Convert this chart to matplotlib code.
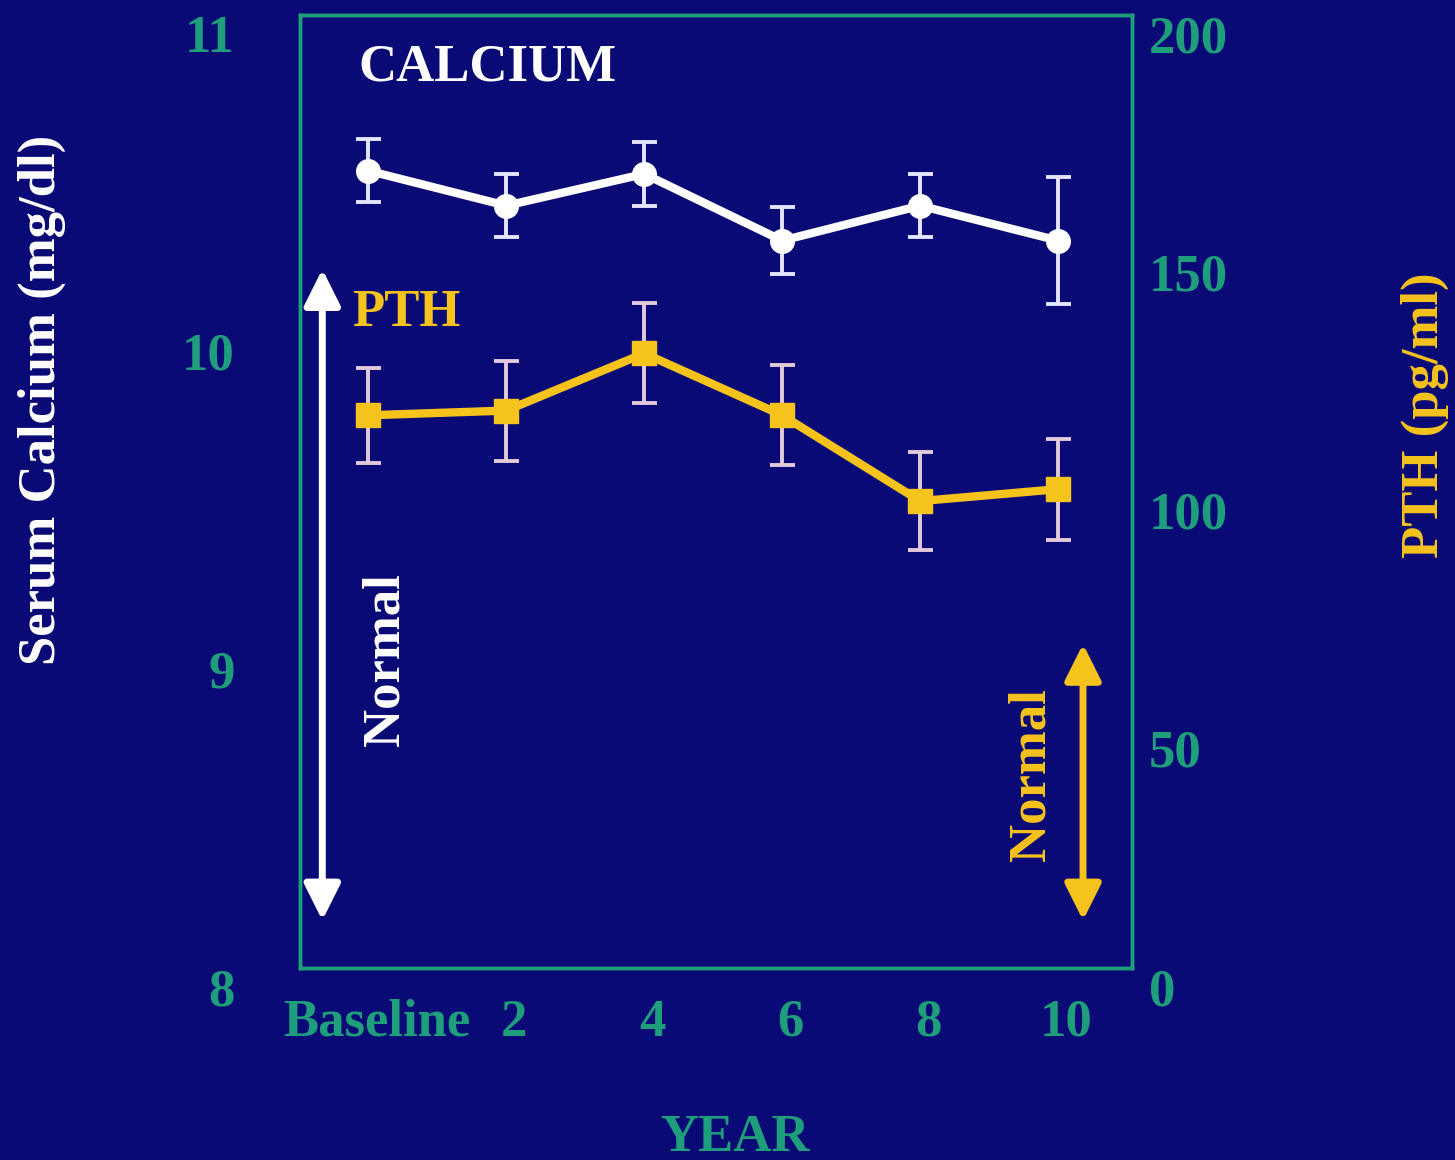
import numpy as np
from matplotlib import pyplot as plt
from matplotlib.transforms import ScaledTranslation

# serum calcium and PTH over ten years of follow-up
years = [0, 2, 4, 6, 8, 10]
year_labels = ["Baseline", "2", "4", "6", "8", "10"]
calcium = [10.51, 10.40, 10.50, 10.29, 10.40, 10.29]
calcium_err = [0.10, 0.10, 0.10, 0.105, 0.10, 0.20]
pth = [116, 117, 129, 116, 98, 100.5]
pth_err = [10, 10.5, 10.5, 10.5, 10.3, 10.6]

# normal ranges shown as double arrows
calcium_normal = [8.15, 10.2]
pth_normal = [10, 68]

calcium_ticks = [8, 9, 10, 11]
pth_ticks = [0, 50, 100, 150, 200]

bg = "#0a0a76"
green = "#1f9e7c"
gold = "#f6c31c"
white = "#ffffff"

plt.rcParams["font.family"] = ["Liberation Serif", "DejaVu Serif"]
plt.rcParams["font.weight"] = "bold"
plt.rcParams["axes.labelweight"] = "bold"
fs = 38

fig = plt.figure(figsize=(14.55, 11.6), dpi=100, facecolor=bg)
ax = fig.add_axes([0.2062, 0.1655, 0.5718, 0.8215])
ax.set_facecolor(bg)
ax2 = ax.twinx()

ax.set_xlim(-0.99, 11.07)
ax.set_ylim(8, 11)
ax2.set_ylim(0, 200)

# calcium series
ax.errorbar(years, calcium, yerr=calcium_err, color=white, lw=6,
            marker="o", markersize=17, mfc=white, mec=white,
            ecolor="#e4e4ff", elinewidth=2.8, capsize=9, capthick=2.8, zorder=4)

# PTH series
ax2.errorbar(years, pth, yerr=pth_err, color=gold, lw=6,
             marker="s", markersize=17, mfc=gold, mec=gold,
             ecolor="#e2cadb", elinewidth=2.8, capsize=9, capthick=2.8, zorder=4)

# normal range arrows
ax.annotate("", xy=(-0.667, calcium_normal[1]), xytext=(-0.667, calcium_normal[0]),
            arrowprops=dict(arrowstyle="<|-|>,head_length=1.1,head_width=0.55",
                            color=white, lw=5, mutation_scale=20, shrinkA=0, shrinkB=0))
ax.text(0.25, 8.97, "Normal", color=white, fontsize=fs, rotation=90,
        ha="center", va="center")
ax2.annotate("", xy=(10.36, pth_normal[1]), xytext=(10.36, pth_normal[0]),
             arrowprops=dict(arrowstyle="<|-|>,head_length=1.1,head_width=0.55",
                             color=gold, lw=5, mutation_scale=20, shrinkA=0, shrinkB=0))
ax2.text(9.62, 40.5, "Normal", color=gold, fontsize=fs, rotation=90,
         ha="center", va="center")

ax.text(0.07, 0.945, "CALCIUM", color=white, fontsize=fs, transform=ax.transAxes,
        ha="left", va="center")
ax.text(0.0625, 0.687, "PTH", color=gold, fontsize=fs, transform=ax.transAxes,
        ha="left", va="center")

# axes frame and ticks
for a in (ax, ax2):
    for s in a.spines.values():
        s.set_color(green)
        s.set_linewidth(2.5)

ax.set_xticks(years)
ax.set_xticklabels(year_labels)
ax.set_yticks(calcium_ticks)
ax.set_yticklabels([str(v) for v in calcium_ticks])
ax2.set_yticks(pth_ticks)
ax2.set_yticklabels([str(v) for v in pth_ticks])

ax.tick_params(axis="x", length=0, pad=22, labelsize=fs, labelcolor=green)
ax.tick_params(axis="y", length=0, pad=47, labelsize=fs, labelcolor=green)
ax2.tick_params(axis="y", length=0, pad=12, labelsize=fs, labelcolor=green)
for lab in ax.get_yticklabels() + ax2.get_yticklabels():
    lab.set_verticalalignment("top")
shift = ScaledTranslation(0.08, 0, fig.dpi_scale_trans)
for lab in ax.get_xticklabels():
    lab.set_transform(lab.get_transform() + shift)

ax.set_ylabel("Serum Calcium (mg/dl)", color=white, fontsize=fs)
ax.yaxis.label.set_verticalalignment("center")
ax.yaxis.set_label_coords(-0.31, 0.596)
ax2.set_ylabel("PTH (pg/ml)", color=gold, fontsize=fs, rotation=90)
ax2.yaxis.label.set_verticalalignment("center")
ax2.yaxis.set_label_coords(1.352, 0.58)
ax.text(0.523, -0.192, "YEAR", color=green, fontsize=fs, transform=ax.transAxes,
        ha="center", va="baseline")

fig.savefig("out.png", dpi=100, facecolor=bg)
